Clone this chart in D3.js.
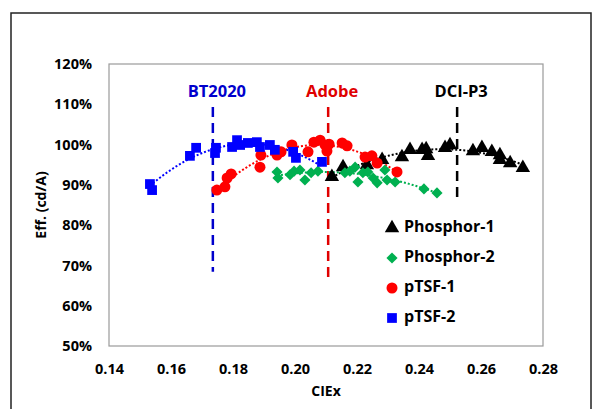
<!DOCTYPE html>
<html>
<head>
<meta charset="utf-8">
<script src="https://cdn.jsdelivr.net/npm/d3@7"></script>
<style>
  body { margin: 0; background: #fff; }
  svg text { font-family: "Open Sans", "Noto Sans", sans-serif; font-weight: 700; }
</style>
</head>
<body>
<svg id="chart" width="595" height="409"></svg>
<script>
// CIEx / efficiency pairs
const phosphor1 = [
  [0.2119, 0.920], [0.2155, 0.944], [0.2232, 0.949], [0.2281, 0.962], [0.2345, 0.969],
  [0.2371, 0.987], [0.2410, 0.987], [0.2423, 0.989], [0.2429, 0.972], [0.2484, 0.992],
  [0.2500, 0.999], [0.2574, 0.984], [0.2603, 0.992], [0.2635, 0.982], [0.2661, 0.974],
  [0.2661, 0.962], [0.2694, 0.954], [0.2735, 0.942]
];
const phosphor2 = [
  [0.1942, 0.932], [0.1945, 0.917], [0.1984, 0.925], [0.1997, 0.934], [0.2016, 0.937],
  [0.2032, 0.912], [0.2052, 0.930], [0.2074, 0.934], [0.2161, 0.930], [0.2177, 0.934],
  [0.2194, 0.944], [0.2203, 0.907], [0.2219, 0.930], [0.2235, 0.932], [0.2252, 0.917],
  [0.2265, 0.905], [0.2290, 0.937], [0.2297, 0.912], [0.2323, 0.907], [0.2416, 0.890],
  [0.2458, 0.880]
];
const ptsf1 = [
  [0.1748, 0.887], [0.1774, 0.895], [0.1781, 0.917], [0.1794, 0.927], [0.1890, 0.974],
  [0.1887, 0.944], [0.1942, 0.974], [0.1955, 0.982], [0.1990, 0.999], [0.2042, 0.982],
  [0.2061, 1.006], [0.2081, 1.011], [0.2097, 0.999], [0.2110, 1.001], [0.2103, 0.984],
  [0.2152, 1.004], [0.2168, 0.997], [0.2226, 0.969], [0.2248, 0.972], [0.2265, 0.954],
  [0.2329, 0.932]
];
const ptsf2 = [
  [0.1532, 0.902], [0.1539, 0.887], [0.1661, 0.972], [0.1681, 0.992], [0.1745, 0.992],
  [0.1742, 0.979], [0.1797, 0.994], [0.1813, 1.011], [0.1823, 0.999], [0.1848, 1.004],
  [0.1877, 1.006], [0.1887, 0.994], [0.1919, 0.999], [0.1935, 0.987], [0.1994, 0.982],
  [0.2003, 0.967], [0.2087, 0.957]
];

const seriesNames = ["Phosphor-1", "Phosphor-2", "pTSF-1", "pTSF-2"];
const seriesColors = ["#000000", "#00B050", "#FF0000", "#0000FF"];
// diamond drawn as a square turned 45 degrees, as the spreadsheet does
const seriesShapes = [d3.symbolTriangle, d3.symbolSquare, d3.symbolCircle, d3.symbolSquare];
const seriesTurn = [0, 45, 0, 0];
const seriesSizes = [90, 62, 95, 95];

// standard gamut reference lines: name, CIEx, top, bottom
const refNames = ["BT2020", "Adobe", "DCI-P3"];
const refX = [0.1735, 0.2107, 0.2523];
const refTop = [1.093, 1.093, 1.093];
const refBottom = [0.684, 0.671, 0.867];
const refColors = ["#0000CC", "#E00000", "#000000"];

const xTicks = [0.14, 0.16, 0.18, 0.20, 0.22, 0.24, 0.26, 0.28];
const yTicks = [0.5, 0.6, 0.7, 0.8, 0.9, 1.0, 1.1, 1.2];

const svg = d3.select("#chart");
const margin = { left: 109, right: 52, top: 64, bottom: 63 };
const width = 595 - margin.left - margin.right;
const height = 409 - margin.top - margin.bottom;

// outer chart frame
svg.append("rect")
  .attr("x", 11).attr("y", 13)
  .attr("width", 580).attr("height", 410)
  .attr("fill", "none")
  .attr("stroke", "#222")
  .attr("stroke-width", 1.5);

const g = svg.append("g").attr("transform", `translate(${margin.left},${margin.top})`);

const x = d3.scaleLinear().domain([0.14, 0.28]).range([0, width]);
const y = d3.scaleLinear().domain([0.5, 1.2]).range([height, 0]);

// plot area box
g.append("rect")
  .attr("width", width).attr("height", height)
  .attr("fill", "none")
  .attr("stroke", "#9a9a9a")
  .attr("stroke-width", 1.2);

// axes (no tick marks, labels only)
const xAxis = d3.axisBottom(x).tickValues(xTicks).tickFormat(d3.format(".2f")).tickSize(0).tickPadding(18);
g.append("g")
  .attr("transform", `translate(0,${height})`)
  .call(xAxis)
  .call(a => a.select(".domain").remove())
  .selectAll("text")
  .attr("font-size", "14.5px")
  .attr("fill", "#000");

const yAxis = d3.axisLeft(y).tickValues(yTicks).tickFormat(d3.format(".0%")).tickSize(0).tickPadding(17);
g.append("g")
  .call(yAxis)
  .call(a => a.select(".domain").remove())
  .selectAll("text")
  .attr("font-size", "14.5px")
  .attr("fill", "#000");

// axis titles
g.append("text")
  .attr("x", width / 2).attr("y", height + 50)
  .attr("text-anchor", "middle")
  .attr("font-size", "14px")
  .text("CIEx");

g.append("text")
  .attr("transform", `translate(${42 - margin.left},${height / 2}) rotate(-90)`)
  .attr("text-anchor", "middle")
  .attr("dominant-baseline", "middle")
  .attr("font-size", "14px")
  .text("Eff. (cd/A)");

// reference gamut lines
refNames.forEach((name, i) => {
  g.append("line")
    .attr("x1", x(refX[i])).attr("x2", x(refX[i]))
    .attr("y1", y(refTop[i])).attr("y2", y(refBottom[i]))
    .attr("stroke", refColors[i])
    .attr("stroke-width", 2.5)
    .attr("stroke-dasharray", "10,6");
  g.append("text")
    .attr("x", x(refX[i]) + 4).attr("y", y(refTop[i]) - 10)
    .attr("text-anchor", "middle")
    .attr("font-size", "16.5px")
    .attr("fill", refColors[i])
    .text(name);
});

// quadratic least-squares trendline, like the spreadsheet's polynomial fit
function quadFit(pts) {
  const s = [0, 0, 0, 0, 0], t = [0, 0, 0];
  pts.forEach(([px, py]) => {
    for (let k = 0; k < 5; k++) s[k] += Math.pow(px, k);
    for (let k = 0; k < 3; k++) t[k] += py * Math.pow(px, k);
  });
  const m = [[s[0], s[1], s[2], t[0]], [s[1], s[2], s[3], t[1]], [s[2], s[3], s[4], t[2]]];
  for (let i = 0; i < 3; i++) {
    for (let r = i + 1; r < 3; r++) {
      const f = m[r][i] / m[i][i];
      for (let c = i; c < 4; c++) m[r][c] -= f * m[i][c];
    }
  }
  const c = [0, 0, 0];
  for (let i = 2; i >= 0; i--) {
    let v = m[i][3];
    for (let j = i + 1; j < 3; j++) v -= m[i][j] * c[j];
    c[i] = v / m[i][i];
  }
  return xv => c[0] + c[1] * xv + c[2] * xv * xv;
}

const allSeries = [phosphor1, phosphor2, ptsf1, ptsf2];
const line = d3.line().x(d => x(d[0])).y(d => y(d[1]));

allSeries.forEach((pts, i) => {
  const f = quadFit(pts);
  const [x0, x1] = d3.extent(pts, d => d[0]);
  const curve = d3.range(41).map(k => {
    const xv = x0 + (x1 - x0) * k / 40;
    return [xv, f(xv)];
  });
  g.append("path")
    .attr("d", line(curve))
    .attr("fill", "none")
    .attr("stroke", seriesColors[i])
    .attr("stroke-width", 2)
    .attr("stroke-dasharray", "2,2");
});

allSeries.forEach((pts, i) => {
  g.selectAll(".pt" + i)
    .data(pts)
    .join("path")
    .attr("class", "pt" + i)
    .attr("transform", d => `translate(${x(d[0])},${y(d[1])}) rotate(${seriesTurn[i]})`)
    .attr("d", d3.symbol().type(seriesShapes[i]).size(seriesSizes[i]))
    .attr("fill", seriesColors[i]);
});

// legend
const legend = g.append("g").attr("transform", `translate(${392 - margin.left},${228 - margin.top})`);
seriesNames.forEach((name, i) => {
  const row = legend.append("g").attr("transform", `translate(0,${i * 30})`);
  row.append("path")
    .attr("transform", `rotate(${seriesTurn[i]})`)
    .attr("d", d3.symbol().type(seriesShapes[i]).size(seriesSizes[i]))
    .attr("fill", seriesColors[i]);
  row.append("text")
    .attr("x", 12).attr("y", 0)
    .attr("dominant-baseline", "middle")
    .attr("font-size", "16px")
    .text(name);
});
</script>
</body>
</html>
